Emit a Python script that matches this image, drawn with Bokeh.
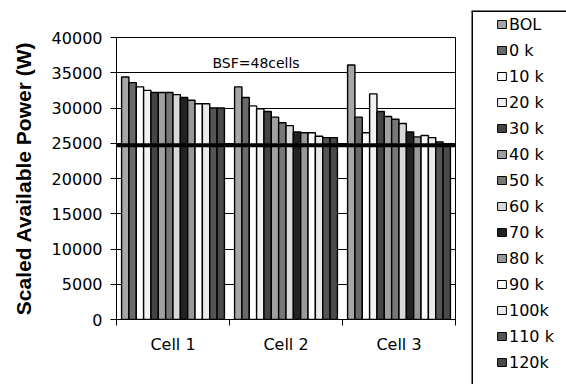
from bokeh.plotting import figure
from bokeh.layouts import row
from bokeh.models import (FixedTicker, Span, Label, Legend, LegendItem, Range1d,
                          ColumnDataSource)
from bokeh.embed import file_html
from bokeh.resources import INLINE

categories = ["Cell 1", "Cell 2", "Cell 3"]
series = ["BOL", "0 k", "10 k", "20 k", "30 k", "40 k", "50 k", "60 k",
          "70 k", "80 k", "90 k", "100k", "110 k", "120k"]
cell1 = [34400, 33600, 33000, 32500, 32200, 32200, 32200, 31900, 31500, 31100, 30600, 30600, 30000, 30000]
cell2 = [33000, 31500, 30300, 29900, 29500, 28700, 27900, 27500, 26600, 26500, 26500, 26000, 25800, 25800]
cell3 = [36100, 28700, 26500, 32000, 29500, 28800, 28400, 27800, 26600, 25900, 26100, 25800, 25200, 24900]
colors = ["#a6a6a6", "#6a6a6a", "#ffffff", "#f2f2f2", "#444444", "#a0a0a0", "#777777",
          "#d8d8d8", "#222222", "#999999", "#ffffff", "#eaeaea", "#555555", "#4a4a4a"]
bsf_power = 24700
bsf_text = "BSF=48cells"
y_ticks = list(range(0, 40001, 5000))

bar_w = 0.065
n = len(series)

p = figure(width=471, height=384, x_range=Range1d(0, 3), y_range=Range1d(0, 40000),
           output_backend="svg", toolbar_location=None,
           min_border_left=116, min_border_right=16, min_border_top=37, min_border_bottom=65)
p.frame_align = False
p.background_fill_color = "white"
p.border_fill_color = "white"
p.outline_line_color = "black"
p.outline_line_width = 1

p.xgrid.visible = False
p.ygrid.grid_line_color = "black"
p.ygrid.grid_line_width = 1

sources = []
for j in range(n):
    vals = [cell1[j], cell2[j], cell3[j]]
    xs = [i + 0.5 + (j - (n - 1) / 2) * bar_w for i in range(len(categories))]
    src = ColumnDataSource(dict(x=xs, top=vals))
    sources.append(src)
    p.vbar(x="x", top="top", bottom=0, width=bar_w, source=src,
           fill_color=colors[j], line_color="black", line_width=1.4)

p.add_layout(Span(location=bsf_power, dimension="width", line_color="black", line_width=4))
p.add_layout(Label(x=1.235, y=36450, text=bsf_text, text_align="center", text_baseline="middle",
                   text_font="DejaVu Sans", text_font_size="14px", text_color="black"))

# axes
xa = p.xaxis[0]
xa.ticker = FixedTicker(ticks=[i + 0.5 for i in range(len(categories))],
                        minor_ticks=list(range(len(categories) + 1)))
xa.major_label_overrides = {i + 0.5: c for i, c in enumerate(categories)}
xa.major_tick_line_alpha = 0
xa.major_tick_out = 6
xa.major_tick_in = 0
xa.minor_tick_line_color = "black"
xa.minor_tick_out = 6
xa.minor_tick_in = 0
xa.axis_line_color = "black"
xa.major_label_text_font = "DejaVu Sans"
xa.major_label_text_font_size = "16px"
xa.major_label_text_color = "black"
xa.major_label_standoff = 9

ya = p.yaxis[0]
ya.ticker = FixedTicker(ticks=y_ticks)
ya.major_tick_out = 6
ya.major_tick_in = 2
ya.major_tick_line_color = "black"
ya.minor_tick_line_color = None
ya.axis_line_color = "black"
ya.major_label_text_font = "DejaVu Sans"
ya.major_label_text_font_size = "16px"
ya.major_label_text_color = "black"
ya.major_label_standoff = 8
ya.axis_label = "Scaled Available Power (W)"
ya.axis_label_text_font = "Liberation Sans"
ya.axis_label_text_font_style = "bold"
ya.axis_label_text_font_size = "21px"
ya.axis_label_text_color = "black"
ya.axis_label_standoff = 14

# legend panel: box open to the right and bottom (cut by the page edge)
q_x = Range1d(0, 1)
q_y = Range1d(0, 1)
q = figure(width=95, height=384, x_range=q_x, y_range=q_y,
           output_backend="svg", toolbar_location=None,
           x_axis_location=None, y_axis_location=None,
           min_border_left=0, min_border_right=0, min_border_top=10, min_border_bottom=0)
q.frame_align = False
q.grid.visible = False
q.background_fill_color = "white"
q.border_fill_color = "white"
q.outline_line_color = None
q.add_layout(Span(location=q_x.start, dimension="height", line_color="black", line_width=3))
q.add_layout(Span(location=q_y.end, dimension="width", line_color="black", line_width=3))

items = []
for j in range(n):
    r = q.vbar(x="x", top="top", bottom=0, width=bar_w, source=sources[j],
               fill_color=colors[j], line_color="black", line_width=1, visible=False)
    items.append(LegendItem(label=series[j], renderers=[r]))

leg = Legend(items=items, location=(25, 11), padding=0, spacing=4,
             glyph_width=11, glyph_height=10, label_height=22, label_width=40, label_standoff=2,
             label_text_font="DejaVu Sans", label_text_font_size="16px", label_text_color="black",
             border_line_alpha=0, background_fill_alpha=0, margin=0,
             inactive_fill_alpha=0)
q.add_layout(leg)

layout = row(p, q, spacing=0)
open("out.html", "w").write(file_html(layout, INLINE))
